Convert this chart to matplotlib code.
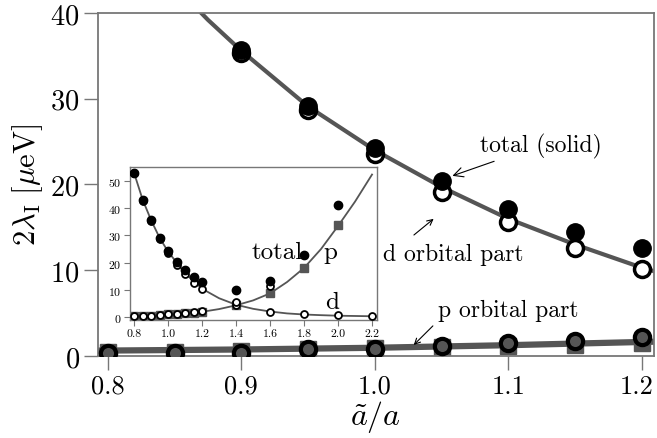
import numpy as np
import matplotlib
matplotlib.use('Agg')
import matplotlib.pyplot as plt
import matplotlib as mpl
import matplotlib.transforms as mtransforms

settings = {"font.family": "serif",
            "font.serif": ["cmr10", "DejaVu Serif"],
            "mathtext.fontset": "cm",
            "axes.formatter.use_mathtext": True,
            "axes.unicode_minus": False,
            }
mpl.rcParams.update(settings)

# main panel data
x_main = [0.8, 0.85, 0.9, 0.95, 1.0, 1.05, 1.1, 1.15, 1.2]
total_main = [53.0, 42.8, 35.7, 29.2, 24.3, 20.4, 17.1, 14.4, 12.6]
d_main = [53.0, 42.6, 35.3, 28.7, 23.6, 19.1, 15.6, 12.6, 10.1]
p_sq_main = [0.5, 0.5, 0.55, 0.75, 0.9, 1.08, 1.12, 1.25, 1.55]
p_circ_main = [0.3, 0.3, 0.3, 0.8, 0.85, 1.2, 1.45, 1.7, 2.2]

d_fit_x = [0.8, 0.825, 0.85, 0.875, 0.9, 0.95, 1.0, 1.05, 1.1, 1.15, 1.2, 1.22]
d_fit_y = [53.0, 47.8, 43.2, 39.2, 35.6, 29.1, 24.0, 19.7, 16.0, 13.0, 10.3, 9.4]
p_fit_x = [0.78, 0.9, 1.0, 1.1, 1.22]
p_fit_y = [0.6, 0.75, 0.95, 1.25, 1.7]

# inset data
x_tot_in = [0.8, 0.85, 0.9, 0.95, 1.0, 1.05, 1.1, 1.15, 1.2, 1.4, 1.6, 1.8, 2.0]
total_in = [53.0, 43.0, 35.7, 29.1, 24.3, 20.3, 17.1, 14.5, 12.7, 9.7, 13.3, 22.8, 41.3]
x_d_in = [0.8, 0.85, 0.9, 0.95, 1.0, 1.05, 1.1, 1.15, 1.2, 1.4, 1.6, 1.8, 2.0, 2.2]
d_in = [53.0, 42.6, 35.3, 28.7, 23.6, 19.1, 15.6, 12.6, 10.1, 5.4, 1.8, 0.8, 0.5, 0.2]
x_p_in = [0.8, 0.85, 0.9, 0.95, 1.0, 1.05, 1.1, 1.15, 1.2, 1.4, 1.6, 1.8, 2.0]
p_sq_in = [0.3, 0.3, 0.4, 0.6, 0.8, 1.0, 1.2, 1.5, 1.9, 4.2, 8.6, 17.9, 33.7]
x_pc_in = [0.8, 0.85, 0.9, 0.95, 1.0, 1.05, 1.1, 1.15, 1.2, 1.4, 1.6]
p_circ_in = [0.3, 0.3, 0.4, 0.7, 0.8, 1.1, 1.4, 1.7, 2.2, 4.4, 11.3]

d_fit_in_x = [0.8, 0.85, 0.9, 0.95, 1.0, 1.1, 1.2, 1.3, 1.4, 1.5, 1.6, 1.7, 1.8, 1.9, 2.0, 2.1, 2.2]
d_fit_in_y = [53.0, 43.2, 35.6, 29.1, 24.0, 16.0, 10.3, 6.8, 4.4, 2.9, 1.9, 1.2, 0.8, 0.55, 0.35, 0.25, 0.15]
p_fit_in_x = [0.8, 1.0, 1.2, 1.3, 1.4, 1.5, 1.6, 1.7, 1.8, 1.9, 2.0, 2.1, 2.2]
p_fit_in_y = [0.3, 0.8, 1.8, 2.8, 4.2, 6.0, 8.6, 12.8, 18.0, 25.0, 33.5, 42.5, 52.5]

gray = '#555555'
spine_col = '#777777'

fig = plt.figure(figsize=(6.57, 4.39), dpi=100)
ax = fig.add_axes([0.149, 0.187, 0.846, 0.781])

ax.plot(d_fit_x, d_fit_y, color=gray, lw=3, zorder=1)
ax.plot(p_fit_x, p_fit_y, color=gray, lw=4.5, zorder=1)
ax.plot(x_main, p_sq_main, 's', color=gray, ms=12, zorder=2)
ax.plot(x_main, p_circ_main, 'o', mfc=gray, mec='black', mew=3, ms=11, zorder=3)
ax.plot(x_main, d_main, 'o', mfc='white', mec='black', mew=2.5, ms=11.5, zorder=3)
ax.plot(x_main, total_main, 'o', color='black', ms=12.5, zorder=4)

ax.set_xlim(0.7925, 1.209)
ax.set_ylim(0, 40)
ax.set_xticks([0.8, 0.9, 1.0, 1.1, 1.2])
ax.set_xticklabels(['0.8', '0.9', '1.0', '1.1', '1.2'])
ax.set_yticks([0, 10, 20, 30, 40])
ax.tick_params(direction='out', length=10, width=1, color=spine_col, labelsize=20.5, pad=3)
ax.tick_params(axis='x', labelsize=19)
# nudge the last x label so it stays inside the canvas
last = ax.get_xticklabels()[-1]
last.set_transform(last.get_transform() + mtransforms.ScaledTranslation(-4 / 72, 0, fig.dpi_scale_trans))
for s in ax.spines.values():
    s.set_color(spine_col)
    s.set_linewidth(1.3)
ax.set_xlabel(r'$\tilde{a}/a$', fontsize=23, labelpad=0)
ax.set_ylabel(r'$2\lambda_{\rm I}\ [\mu{\rm eV}]$', fontsize=22, labelpad=4)

arr = dict(arrowstyle='->', color='black', lw=0.8)
ax.annotate('total (solid)', xy=(1.0562, 20.9), xytext=(1.0787, 24.6),
            fontsize=17, va='center', arrowprops=arr)
ax.annotate('', xy=(1.0457, 16.2), xytext=(1.0277, 13.9), arrowprops=arr)
ax.text(1.006, 11.9, 'd orbital part', fontsize=17, va='center')
ax.annotate('', xy=(1.0277, 1.05), xytext=(1.045, 3.73), arrowprops=arr)
ax.text(1.047, 5.36, 'p orbital part', fontsize=17, va='center')

# inset
ins = fig.add_axes([0.198, 0.269, 0.376, 0.349])
ins.plot(d_fit_in_x, d_fit_in_y, color=gray, lw=1.3, zorder=1)
ins.plot(p_fit_in_x, p_fit_in_y, color=gray, lw=1.3, zorder=1)
ins.plot(x_p_in, p_sq_in, 's', color=gray, ms=6, zorder=2)
ins.plot(x_pc_in, p_circ_in, 'o', mfc='white', mec='black', mew=1.3, ms=5, zorder=3)
ins.plot(x_d_in, d_in, 'o', mfc='white', mec='black', mew=1.3, ms=5, zorder=3)
ins.plot(x_tot_in, total_in, 'o', color='black', ms=6, zorder=4)
ins.set_xlim(0.776, 2.23)
ins.set_ylim(-1.2, 55.4)
ins.set_xticks([0.8, 1.0, 1.2, 1.4, 1.6, 1.8, 2.0, 2.2])
ins.set_xticklabels(['0.8', '1.0', '1.2', '1.4', '1.6', '1.8', '2.0', '2.2'])
ins.set_yticks([0, 10, 20, 30, 40, 50])
ins.tick_params(direction='out', length=4, width=0.8, color=spine_col, labelsize=8.5, pad=2)
for s in ins.spines.values():
    s.set_color(spine_col)
    s.set_linewidth(1)
ins.text(1.494, 23.9, 'total', fontsize=18, va='center')
ins.text(1.912, 23.9, 'p', fontsize=18, va='center')
ins.text(1.924, 5.3, 'd', fontsize=18, va='center')

fig.savefig('out.png', dpi=100)
